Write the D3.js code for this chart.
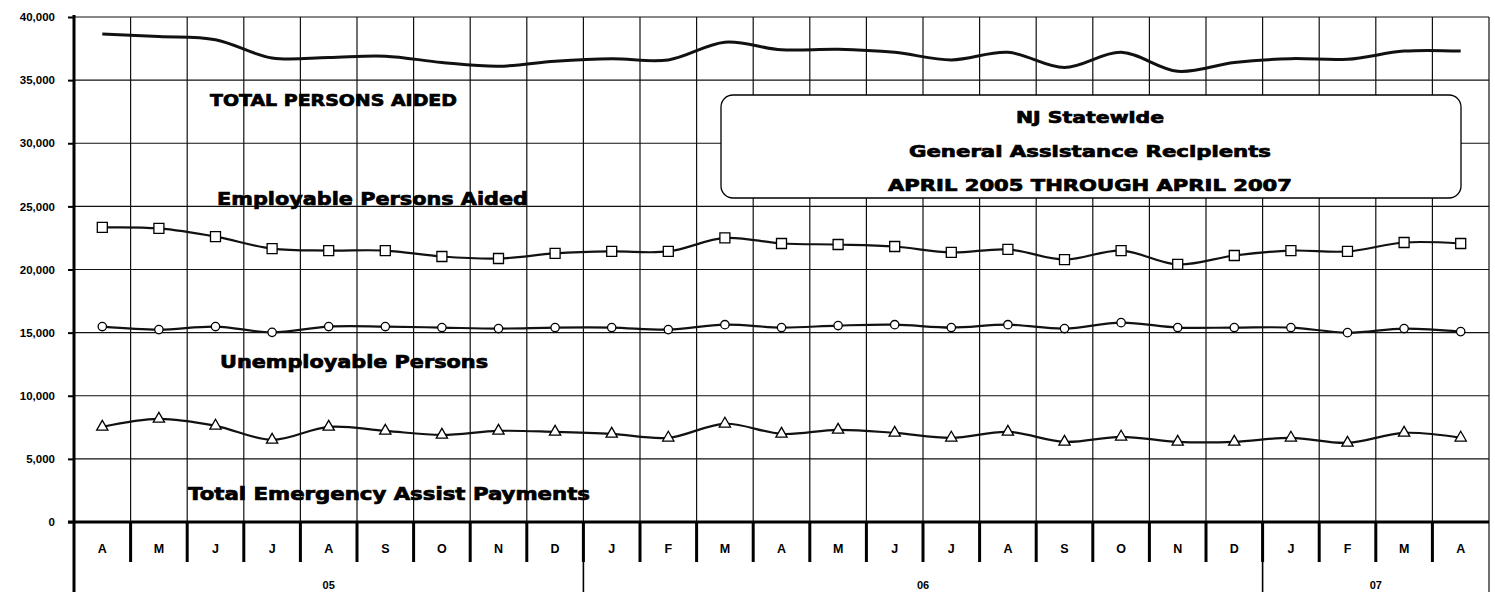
<!DOCTYPE html>
<html>
<head>
<meta charset="utf-8">
<script src="https://cdn.jsdelivr.net/npm/d3@7"></script>
<style>
  body { margin: 0; background: #fff; }
  text { font-family: "Liberation Sans", Arial, sans-serif; }
  .heavy { font-family: "DejaVu Sans", "Liberation Sans", sans-serif; font-weight: bold; stroke: #000; stroke-width: 0.7px; }
</style>
</head>
<body>
<div id="vis"></div>
<script>

// month letters along the bottom, April 2005 .. April 2007
var months = ["A","M","J","J","A","S","O","N","D","J","F","M","A","M","J","J","A","S","O","N","D","J","F","M","A"];
var yearLabels = ["05", "06", "07"];
var yearMonthCounts = [9, 12, 4];
var yTicks = [0, 5000, 10000, 15000, 20000, 25000, 30000, 35000, 40000];

// values
var totalAided = [38650, 38450, 38200, 36750, 36800, 36900, 36400, 36100, 36500, 36700, 36600, 38000,
                  37400, 37450, 37200, 36600, 37200, 36000, 37200, 35700, 36400, 36700, 36650, 37300, 37300];
var employable = [23330, 23250, 22600, 21650, 21500, 21500, 21030, 20870, 21270, 21430, 21430, 22500,
                  22060, 21980, 21820, 21350, 21590, 20790, 21500, 20400, 21110, 21500, 21430, 22140, 22060];
var unemployable = [15480, 15240, 15480, 15020, 15480, 15480, 15400, 15320, 15400, 15400, 15240, 15630,
                    15400, 15560, 15630, 15400, 15630, 15320, 15790, 15400, 15400, 15400, 15000, 15320, 15080];
var emergency = [7540, 8170, 7620, 6510, 7540, 7220, 6900, 7220, 7140, 6980, 6670, 7780,
                 6980, 7300, 7060, 6670, 7140, 6350, 6750, 6350, 6350, 6670, 6270, 7060, 6670];

var W = 1495, H = 592;
var plotLeft = 74, plotRight = 1489, plotTop = 17, plotBase = 522;

var x = d3.scaleBand().domain(d3.range(months.length)).range([plotLeft, plotRight]);
var y = d3.scaleLinear().domain([0, 40000]).range([plotBase, plotTop]);

var svg = d3.select("#vis").append("svg")
    .attr("width", W)
    .attr("height", H);

// horizontal grid
svg.append("g")
  .selectAll("line")
  .data(yTicks.slice(1))
  .enter().append("line")
    .attr("x1", plotLeft).attr("x2", plotRight)
    .attr("y1", function(d) { return y(d); })
    .attr("y2", function(d) { return y(d); })
    .attr("stroke", "#111")
    .attr("stroke-width", 1.2);

// vertical grid between months
var bounds = d3.range(1, months.length).map(function(i) { return x(i); });
svg.append("g")
  .selectAll("line")
  .data(bounds)
  .enter().append("line")
    .attr("x1", function(d) { return d; }).attr("x2", function(d) { return d; })
    .attr("y1", plotTop).attr("y2", plotBase)
    .attr("stroke", "#111")
    .attr("stroke-width", 1.2);

// right border, runs down through the category rows
svg.append("line")
    .attr("x1", plotRight).attr("x2", plotRight)
    .attr("y1", plotTop).attr("y2", H)
    .attr("stroke", "#111")
    .attr("stroke-width", 1.2);

// month separators below the axis
svg.append("g")
  .selectAll("line")
  .data(bounds)
  .enter().append("line")
    .attr("x1", function(d) { return d; }).attr("x2", function(d) { return d; })
    .attr("y1", plotBase).attr("y2", 562)
    .attr("stroke", "#000")
    .attr("stroke-width", 3);

// year separators
var yearStarts = [], acc = 0;
yearMonthCounts.forEach(function(n) { yearStarts.push(acc); acc += n; });
svg.append("g")
  .selectAll("line")
  .data(yearStarts.slice(1))
  .enter().append("line")
    .attr("x1", function(d) { return x(d); }).attr("x2", function(d) { return x(d); })
    .attr("y1", plotBase).attr("y2", H)
    .attr("stroke", "#000")
    .attr("stroke-width", 1.6);

// Y axis
var yAxis = svg.append("g")
    .attr("transform", "translate(" + plotLeft + ",0)")
    .call(d3.axisLeft(y).tickValues(yTicks).tickFormat(d3.format(",")).tickSize(6).tickPadding(13));
yAxis.select(".domain").remove();
yAxis.selectAll(".tick line").attr("stroke", "#000").attr("stroke-width", 2);
yAxis.selectAll("text")
    .attr("font-size", 11.5)
    .attr("font-weight", "bold")
    .attr("fill", "#000");

// month labels
var xAxis = svg.append("g")
    .attr("transform", "translate(0," + plotBase + ")")
    .call(d3.axisBottom(x).tickFormat(function(i) { return months[i]; }).tickSize(0).tickPadding(22));
xAxis.select(".domain").remove();
xAxis.selectAll("text")
    .attr("font-size", 12.5)
    .attr("font-weight", "bold")
    .attr("fill", "#000");

// year labels
svg.append("g")
  .selectAll("text")
  .data(yearLabels)
  .enter().append("text")
    .attr("x", function(d, i) {
      var a = x(yearStarts[i]), b = x(yearStarts[i] + yearMonthCounts[i] - 1) + x.bandwidth();
      return (a + b) / 2;
    })
    .attr("y", 589)
    .attr("text-anchor", "middle")
    .attr("font-size", 11)
    .attr("font-weight", "bold")
    .text(function(d) { return d; });

// thick axis lines
svg.append("line")
    .attr("x1", plotLeft).attr("x2", plotLeft)
    .attr("y1", plotTop - 2).attr("y2", H)
    .attr("stroke", "#000").attr("stroke-width", 3);
svg.append("line")
    .attr("x1", plotLeft - 6).attr("x2", plotRight)
    .attr("y1", plotBase).attr("y2", plotBase)
    .attr("stroke", "#000").attr("stroke-width", 3);

// series lines, smoothed like the spreadsheet
var line = d3.line()
    .x(function(d, i) { return x(i) + x.bandwidth() / 2; })
    .y(function(d) { return y(d); })
    .curve(d3.curveCatmullRom.alpha(0.5));

function addSeries(data, width, symbol, size) {
  svg.append("path")
      .datum(data)
      .attr("fill", "none")
      .attr("stroke", "#111")
      .attr("stroke-width", width)
      .attr("d", line);
  if (!symbol) return;
  svg.append("g")
    .selectAll("path")
    .data(data)
    .enter().append("path")
      .attr("transform", function(d, i) {
        return "translate(" + (x(i) + x.bandwidth() / 2) + "," + y(d) + ")";
      })
      .attr("d", d3.symbol().type(symbol).size(size))
      .attr("fill", "#fff")
      .attr("stroke", "#000")
      .attr("stroke-width", 1.3);
}

addSeries(totalAided, 3, null, 0);
addSeries(employable, 2.2, d3.symbolSquare, 100);
addSeries(unemployable, 2.2, d3.symbolCircle, 55);
addSeries(emergency, 2.2, d3.symbolTriangle, 55);

// series labels
var labels = [
  {text: "TOTAL PERSONS AIDED", x: 210, y: 106, size: 16, len: 247},
  {text: "Employable Persons Aided", x: 217, y: 205, size: 18, len: 311},
  {text: "Unemployable Persons", x: 220, y: 368, size: 17, len: 268},
  {text: "Total Emergency Assist Payments", x: 188, y: 500, size: 17, len: 402}
];
svg.append("g")
  .selectAll("text")
  .data(labels)
  .enter().append("text")
    .attr("class", "heavy")
    .attr("x", function(d) { return d.x; })
    .attr("y", function(d) { return d.y; })
    .attr("font-size", function(d) { return d.size; })
    .attr("textLength", function(d) { return d.len; })
    .attr("lengthAdjust", "spacingAndGlyphs")
    .text(function(d) { return d.text; });

// title box
svg.append("rect")
    .attr("x", 721).attr("y", 95)
    .attr("width", 740).attr("height", 103)
    .attr("rx", 12)
    .attr("fill", "#fff")
    .attr("stroke", "#000")
    .attr("stroke-width", 1.3);

var titles = [
  {text: "NJ Statewide", y: 123, len: 148},
  {text: "General Assistance Recipients", y: 157, len: 362},
  {text: "APRIL 2005 THROUGH APRIL 2007", y: 191, len: 404}
];
svg.append("g")
  .selectAll("text")
  .data(titles)
  .enter().append("text")
    .attr("class", "heavy")
    .attr("x", 1090)
    .attr("y", function(d) { return d.y; })
    .attr("text-anchor", "middle")
    .attr("font-size", 15.5)
    .attr("textLength", function(d) { return d.len; })
    .attr("lengthAdjust", "spacingAndGlyphs")
    .text(function(d) { return d.text; });

</script>
</body>
</html>
